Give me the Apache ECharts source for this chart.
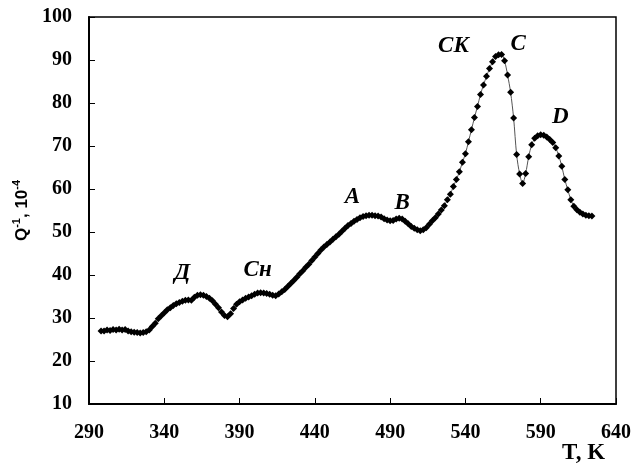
<!DOCTYPE html>
<html>
<head>
<meta charset="utf-8">
<script src="https://cdn.jsdelivr.net/npm/echarts@6/dist/echarts.min.js"></script>
<style>
  html, body { margin: 0; padding: 0; background: #fff; }
  #chart { width: 643px; height: 465px; }
</style>
</head>
<body>
<div id="chart"></div>
<script>
// температура, K
const temps = [
  298, 300, 302, 304, 306, 308, 310, 312, 314, 316, 318, 320, 322, 324, 326, 328,
  330, 332, 334, 336, 338, 340, 342, 344, 346, 348, 350, 352, 354, 356, 358, 360,
  362, 364, 366, 368, 370, 372, 374, 376, 378, 380, 382, 384, 386, 388, 390, 392,
  394, 396, 398, 400, 402, 404, 406, 408, 410, 412, 414, 416, 418, 420, 422, 424,
  426, 428, 430, 432, 434, 436, 438, 440, 442, 444, 446, 448, 450, 452, 454, 456,
  458, 460, 462, 464, 466, 468, 470, 472, 474, 476, 478, 480, 482, 484, 486, 488,
  490, 492, 494, 496, 498, 500, 502, 504, 506, 508, 510, 512, 514, 516, 518, 520,
  522, 524, 526, 528, 530, 532, 534, 536, 538, 540, 542, 544, 546, 548, 550, 552,
  554, 556, 558, 560, 562, 564, 566, 568, 570, 572, 574, 576, 578, 580, 582, 584,
  586, 588, 590, 592, 594, 596, 598, 600, 602, 604, 606, 608, 610, 612, 614, 616,
  618, 620, 622, 624
];
// внутреннее трение Q^-1, 10^-4
const qValues = [
  27.0, 27.0, 27.2, 27.1, 27.3, 27.2, 27.4, 27.2, 27.3, 27.0, 26.8, 26.7, 26.6, 26.5, 26.6, 26.8,
  27.2, 28.0, 28.8, 29.8, 30.5, 31.2, 31.9, 32.4, 32.9, 33.3, 33.6, 33.9, 34.1, 34.2, 34.1, 34.8,
  35.3, 35.4, 35.3, 35.0, 34.6, 34.0, 33.2, 32.4, 31.4, 30.6, 30.3, 31.0, 32.2, 33.2, 33.8, 34.2,
  34.6, 34.9, 35.2, 35.5, 35.8, 35.9, 35.8, 35.7, 35.5, 35.3, 35.2, 35.6, 36.1, 36.6, 37.3, 38.0,
  38.7, 39.5, 40.3, 41.0, 41.8, 42.5, 43.4, 44.2, 45.0, 45.8, 46.5, 47.1, 47.7, 48.3, 48.9, 49.5,
  50.2, 50.9, 51.5, 52.0, 52.5, 52.9, 53.3, 53.6, 53.8, 53.9, 53.9, 53.8, 53.7, 53.5, 53.1, 52.8,
  52.6, 52.7, 53.0, 53.2, 53.0, 52.5, 51.9, 51.3, 50.9, 50.5, 50.3, 50.5, 51.0, 51.8, 52.6, 53.3,
  54.2, 55.1, 56.1, 57.5, 58.8, 60.6, 62.2, 64.0, 66.2, 68.2, 71.0, 73.8, 76.6, 79.2, 82.0, 84.2,
  86.2, 88.0, 89.6, 90.8, 91.2, 91.3, 89.8, 86.5, 82.5, 76.5, 68.0, 63.5, 61.3, 63.6, 67.5, 70.3,
  71.8, 72.4, 72.6, 72.5, 72.1, 71.5, 70.8, 69.6, 67.7, 65.3, 62.2, 59.8, 57.5, 56.0, 55.2, 54.6,
  54.2, 53.9, 53.8, 53.7
];
// подписи пиков: [текст, T, Q]
const peakNames = ['Д', 'Cн', 'A', 'B', 'CK', 'C', 'D'];
const peakT = [352, 402, 465, 498, 532, 575, 603];
const peakQ = [40.5, 41.2, 58.1, 56.7, 93.3, 93.7, 76.7];

const xTicks = { min: 290, max: 640, step: 50 };
const yTicks = { min: 10, max: 100, step: 10 };

let chart = echarts.init(document.getElementById('chart'));

let points = temps.map((t, i) => [t, qValues[i]]);
let marks = peakNames.map((n, i) => ({ name: n, coord: [peakT[i], peakQ[i]] }));

let tickFont = {
  fontFamily: 'Liberation Serif',
  fontWeight: 'bold',
  fontSize: 20,
  color: '#000'
};

let option = {
  animation: false,
  backgroundColor: '#fff',
  grid: {
    left: 89,
    right: 27,
    top: 17,
    bottom: 61,
    containLabel: false,
    outerBoundsMode: 'none',
    show: true,
    borderColor: '#000',
    borderWidth: 1.5
  },
  // подпись оси T, K стоит справа под осью, как в оригинале
  graphic: [
    {
      type: 'text',
      left: 562,
      top: 442,
      style: {
        text: 'T, K',
        fontFamily: 'Liberation Serif',
        fontWeight: 'bold',
        fontSize: 23,
        fill: '#000'
      }
    }
  ],
  xAxis: {
    type: 'value',
    min: xTicks.min,
    max: xTicks.max,
    interval: xTicks.step,
    axisLine: { lineStyle: { color: '#000', width: 2 } },
    axisTick: { inside: true, length: 6, lineStyle: { color: '#000', width: 1 } },
    axisLabel: Object.assign({ margin: 19 }, tickFont),
    splitLine: { show: false }
  },
  yAxis: {
    type: 'value',
    min: yTicks.min,
    max: yTicks.max,
    interval: yTicks.step,
    name: '{b|Q}{s|-1}{b|, 10}{s|-4}',
    nameLocation: 'middle',
    nameGap: 55,
    nameTextStyle: {
      color: '#000',
      rich: {
        b: { fontFamily: 'Liberation Sans', fontWeight: 'bold', fontSize: 17, color: '#000', verticalAlign: 'bottom', lineHeight: 20 },
        s: { fontFamily: 'Liberation Sans', fontWeight: 'bold', fontSize: 11, color: '#000', verticalAlign: 'top', lineHeight: 20 }
      }
    },
    axisLine: { lineStyle: { color: '#000', width: 2 } },
    axisTick: { inside: true, length: 6, lineStyle: { color: '#000', width: 1 } },
    axisLabel: Object.assign({ margin: 17 }, tickFont),
    splitLine: { show: false }
  },
  series: [
    {
      type: 'line',
      data: points,
      smooth: 0.3,
      symbol: 'diamond',
      symbolSize: 7,
      itemStyle: { color: '#000' },
      lineStyle: { color: '#555', width: 1 },
      markPoint: {
        symbol: 'circle',
        symbolSize: 0,
        data: marks,
        label: {
          show: true,
          position: 'inside',
          formatter: (p) => p.name,
          fontFamily: 'Liberation Serif',
          fontWeight: 'bold',
          fontStyle: 'italic',
          fontSize: 23,
          color: '#000'
        }
      }
    }
  ]
};

chart.setOption(option);
</script>
</body>
</html>
